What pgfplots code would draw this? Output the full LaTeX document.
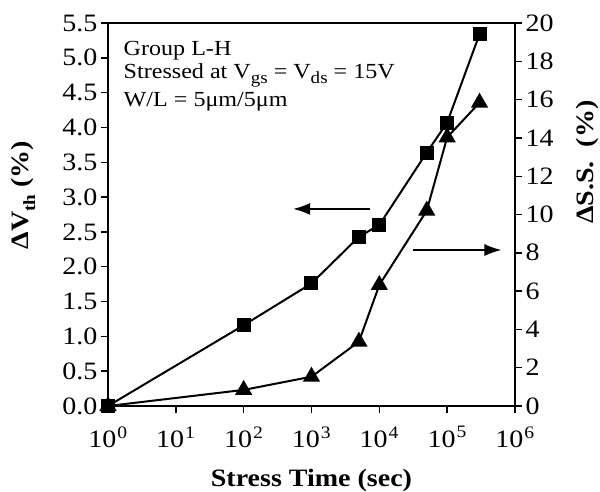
\documentclass[border=0pt]{standalone}
\usepackage{fontspec}
\setmainfont{Liberation Serif}[FakeStretch=1.12]
\usepackage{pgfplots}
\pgfplotsset{compat=1.18}
\usetikzlibrary{arrows.meta}

\newcommand{\sub}[1]{\raisebox{-0.55ex}{\fontsize{17}{17}\selectfont #1}}

\begin{document}
\begin{tikzpicture}
\useasboundingbox (-108pt,-85pt) rectangle (492pt,406pt);

\begin{semilogxaxis}[
  at={(0,0)}, anchor=south west,
  scale only axis, width=407pt, height=383pt,
  xmin=1, xmax=1e6,
  xminorticks=false,
  tick align=outside,
  major tick length=7pt,
  axis line style={line width=1.4pt},
  every tick/.style={line width=1.4pt, black},
  tick label style={font=\fontsize{25}{28}\selectfont},
  /pgf/number format/assume math mode=true,
  clip=false,
  xtick={1,10,100,1000,10000,100000,1000000},
  xticklabels={10\kern1pt\textsuperscript{0},10\kern1pt\textsuperscript{1},10\kern1pt\textsuperscript{2},10\kern1pt\textsuperscript{3},10\kern1pt\textsuperscript{4},10\kern1pt\textsuperscript{5},10\kern1pt\textsuperscript{6}},
  xticklabel style={yshift=-10pt},
  xtick pos=bottom,
  ymin=0, ymax=5.5,
  ytick={0,0.5,1,1.5,2,2.5,3,3.5,4,4.5,5,5.5},
  ytick pos=left,
  yticklabel style={/pgf/number format/.cd, fixed, fixed zerofill, precision=1},
  xlabel={\textbf{Stress Time (sec)}},
  every axis x label/.style={at={(axis description cs:0.5,-0.209)}, anchor=base, font=\fontsize{25}{28}\selectfont},
  ylabel={\textbf{ΔV\sub{th} (\%)}},
  every axis y label/.style={at={(axis description cs:-0.208,0.55)}, anchor=center, rotate=90, font=\fontsize{25}{28}\selectfont},
]
\addplot[black, line width=2pt, mark=square*, mark size=6pt] coordinates {
  (1,0) (100,1.16) (1000,1.76) (5000,2.43) (10000,2.60) (50000,3.64) (100000,4.07) (300000,5.34)
};

\node[anchor=base west, font=\fontsize{21.5}{24}\selectfont] at (rel axis cs:0.03,0.914) {Group L-H};
\node[anchor=base west, font=\fontsize{21.5}{24}\selectfont] at (rel axis cs:0.03,0.856) {Stressed at V\sub{gs} = V\sub{ds} = 15V};
\node[anchor=base west, font=\fontsize{21.5}{24}\selectfont] at (rel axis cs:0.03,0.783) {W/L = 5μm/5μm};

\draw[line width=1.5pt, -{Latex[length=17pt,width=12pt]}] (axis cs:7244,2.83) -- (axis cs:537,2.83);
\draw[line width=1.5pt, -{Latex[length=17pt,width=12pt]}] (axis cs:31600,2.24) -- (axis cs:631000,2.24);
\end{semilogxaxis}

\begin{semilogxaxis}[
  at={(0,0)}, anchor=south west,
  scale only axis, width=407pt, height=383pt,
  xmin=1, xmax=1e6,
  xminorticks=false,
  tick align=outside,
  major tick length=7pt,
  axis line style={line width=1.4pt},
  every tick/.style={line width=1.4pt, black},
  tick label style={font=\fontsize{25}{28}\selectfont},
  /pgf/number format/assume math mode=true,
  clip=false,
  axis x line=none,
  axis y line*=right,
  ymin=0, ymax=20,
  ytick={0,2,4,6,8,10,12,14,16,18,20},
  ylabel={\textbf{ΔS.S.\ \ (\%)}},
  every axis y label/.style={at={(axis description cs:1.179,0.637)}, anchor=center, rotate=90, font=\fontsize{25}{28}\selectfont},
]
\addplot[black, line width=2pt, mark=triangle*, mark size=8pt] coordinates {
  (1,0) (100,0.84) (1000,1.53) (5000,3.36) (10000,6.32) (50000,10.2) (100000,14.03) (300000,15.84)
};
\end{semilogxaxis}
\end{tikzpicture}
\end{document}
